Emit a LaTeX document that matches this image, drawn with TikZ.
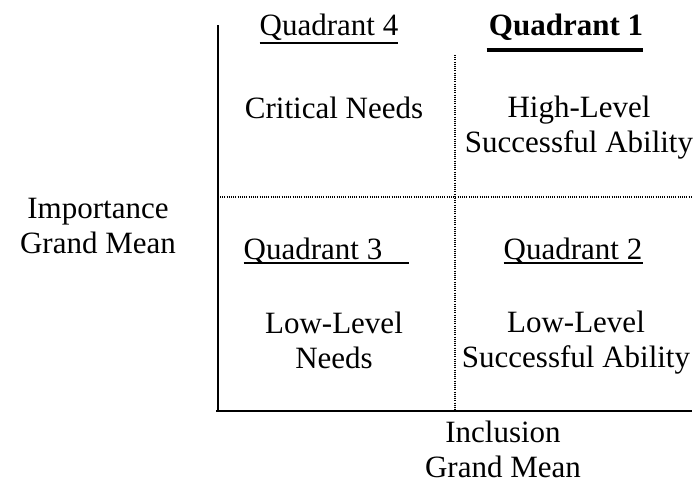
\documentclass[tikz,border=0pt]{standalone}
\usepackage{fontspec}
\setmainfont{Liberation Serif}
\begin{document}
\begin{tikzpicture}[x=1pt,y=-1pt,
  lbl/.style={font=\fontsize{31}{35}\selectfont, inner sep=0pt, align=center, anchor=base},
  axisline/.style={line width=1.6pt},
  divider/.style={line width=1.3pt, dash pattern=on 1pt off 1.2pt},
  uline/.style={line width=1.2pt},
  thickuline/.style={line width=4pt}]
\useasboundingbox (0,0) rectangle (694,483);

% axes
\coordinate (ytop) at (218,25);
\coordinate (origin) at (218,411);
\coordinate (xleft) at (216,411);
\coordinate (xright) at (692,411);
\draw[axisline] (ytop) -- (origin);
\draw[axisline] (xleft) -- (xright);

% dotted dividers between the quadrants
\coordinate (vtop) at (455,55);
\coordinate (vbot) at (455,411);
\coordinate (hleft) at (220,197);
\coordinate (hright) at (692,197);
\draw[divider] (vtop) -- (vbot);
\draw[divider] (hleft) -- (hright);

% quadrant headings
\node[lbl] (q4) at (329,35) {Quadrant 4};
\node[lbl, font=\fontsize{31}{35}\selectfont\bfseries] (q1) at (566,35) {Quadrant 1};
\node[lbl] (q3) at (313,259) {Quadrant 3};
\node[lbl] (q2) at (573,259) {Quadrant 2};

\draw[uline] ([yshift=-8pt]q4.base west) -- ([yshift=-8pt]q4.base east);
\draw[uline] ([yshift=-4pt]q2.base west) -- ([yshift=-4pt]q2.base east);
\draw[uline] ([yshift=-4pt]q3.base west) -- ++(165,0);
\draw[thickuline] ([yshift=-15pt,xshift=-2pt]q1.base west) -- ([yshift=-15pt]q1.base east);

% quadrant descriptions (multi-line nodes sit on their last baseline)
\node[lbl] (crit) at (334,118) {Critical Needs};
\node[lbl] (high) at (579,152) {High-Level\\Successful Ability};
\node[lbl] (lowneeds) at (334,368) {Low-Level\\Needs};
\node[lbl] (lowab) at (576,367) {Low-Level\\Successful Ability};

% axis titles
\node[lbl] (imp) at (98,253) {Importance\\Grand Mean};
\node[lbl] (incl) at (503,477) {Inclusion\\Grand Mean};
\end{tikzpicture}
\end{document}
